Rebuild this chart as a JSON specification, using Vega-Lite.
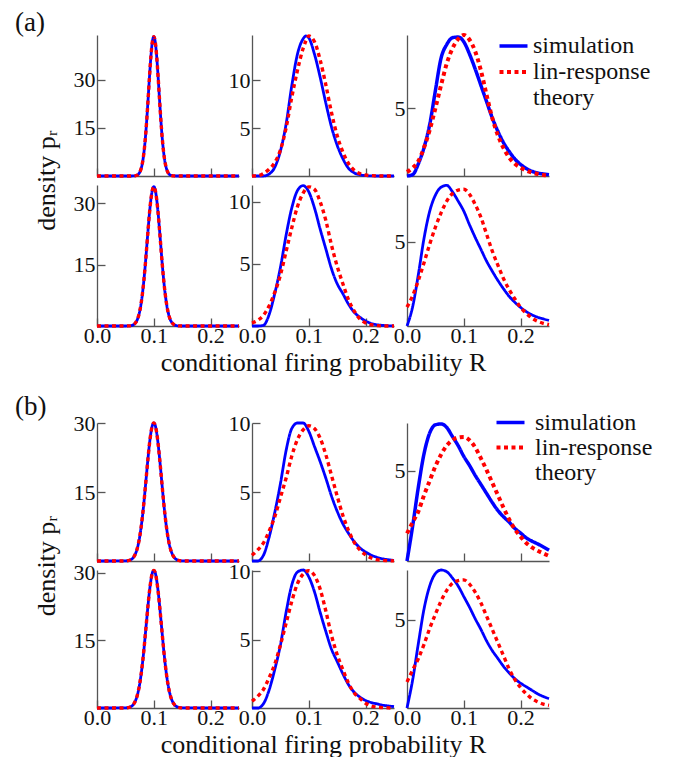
{
"$schema": "https://vega.github.io/schema/vega-lite/v6.json",
"padding": {"left": 15, "top": 8, "right": 5, "bottom": 0},
"background": "white",
"config": {
 "font": "Liberation Serif, DejaVu Serif, serif",
 "view": {"stroke": null},
 "axis": {"grid": false, "domainColor": "#555", "domainWidth": 1.3, "tickColor": "#555", "tickWidth": 1.3, "tickSize": -8, "labelFont": "Liberation Serif, DejaVu Serif, serif", "labelFontSize": 22, "labelColor": "#111", "titleFont": "Liberation Serif, DejaVu Serif, serif", "titleFontSize": 26, "titleFontWeight": "normal", "titleColor": "#111", "labelFlush": false, "labelOverlap": false},
 "axisX": {"format": ".1f", "titlePadding": 3, "labelPadding": 7},
 "axisY": {"format": "d", "labelPadding": 10},
 "title": {"font": "Liberation Serif, DejaVu Serif, serif", "fontSize": 27, "fontWeight": "normal", "color": "#111"},
 "legend": {"labelFont": "Liberation Serif, DejaVu Serif, serif"},
 "line": {"interpolate": "monotone", "clip": true}
},
"datasets": {
 "a11": [{"x":0,"sim":0,"th":0},{"x":0.05,"sim":0,"th":0},{"x":0.06,"sim":0,"th":0},{"x":0.0625,"sim":0.01,"th":0.01},{"x":0.065,"sim":0.03,"th":0.03},{"x":0.0675,"sim":0.08,"th":0.08},{"x":0.07,"sim":0.21,"th":0.21},{"x":0.0725,"sim":0.5,"th":0.5},{"x":0.075,"sim":1.08,"th":1.08},{"x":0.0775,"sim":2.19,"th":2.19},{"x":0.08,"sim":4.09,"th":4.09},{"x":0.0825,"sim":7.13,"th":7.13},{"x":0.085,"sim":11.5,"th":11.5},{"x":0.0875,"sim":17.3,"th":17.3},{"x":0.09,"sim":24.1,"th":24.1},{"x":0.0925,"sim":31.2,"th":31.2},{"x":0.095,"sim":37.5,"th":37.5},{"x":0.0975,"sim":41.9,"th":41.9},{"x":0.1,"sim":43.5,"th":43.5},{"x":0.1025,"sim":41.9,"th":41.9},{"x":0.105,"sim":37.5,"th":37.5},{"x":0.1075,"sim":31.2,"th":31.2},{"x":0.11,"sim":24.1,"th":24.1},{"x":0.1125,"sim":17.3,"th":17.3},{"x":0.115,"sim":11.5,"th":11.5},{"x":0.1175,"sim":7.13,"th":7.13},{"x":0.12,"sim":4.09,"th":4.09},{"x":0.1225,"sim":2.19,"th":2.19},{"x":0.125,"sim":1.08,"th":1.08},{"x":0.1275,"sim":0.5,"th":0.5},{"x":0.13,"sim":0.21,"th":0.21},{"x":0.1325,"sim":0.08,"th":0.08},{"x":0.135,"sim":0.03,"th":0.03},{"x":0.1375,"sim":0.01,"th":0.01},{"x":0.14,"sim":0,"th":0},{"x":0.15,"sim":0,"th":0},{"x":0.25,"sim":0,"th":0}],
 "a21": [{"x":0,"sim":0,"th":0},{"x":0.05,"sim":0,"th":0},{"x":0.055,"sim":0.02,"th":0.02},{"x":0.06,"sim":0.1,"th":0.1},{"x":0.0625,"sim":0.2,"th":0.2},{"x":0.065,"sim":0.39,"th":0.39},{"x":0.0675,"sim":0.72,"th":0.72},{"x":0.07,"sim":1.27,"th":1.27},{"x":0.0725,"sim":2.15,"th":2.15},{"x":0.075,"sim":3.47,"th":3.47},{"x":0.0775,"sim":5.35,"th":5.35},{"x":0.08,"sim":7.89,"th":7.89},{"x":0.0825,"sim":11.1,"th":11.1},{"x":0.085,"sim":14.9,"th":14.9},{"x":0.0875,"sim":19.2,"th":19.2},{"x":0.09,"sim":23.6,"th":23.6},{"x":0.0925,"sim":27.7,"th":27.7},{"x":0.095,"sim":31.0,"th":31.0},{"x":0.0975,"sim":33.2,"th":33.2},{"x":0.1,"sim":34.0,"th":34.0},{"x":0.1025,"sim":33.2,"th":33.2},{"x":0.105,"sim":31.0,"th":31.0},{"x":0.1075,"sim":27.7,"th":27.7},{"x":0.11,"sim":23.6,"th":23.6},{"x":0.1125,"sim":19.2,"th":19.2},{"x":0.115,"sim":14.9,"th":14.9},{"x":0.1175,"sim":11.1,"th":11.1},{"x":0.12,"sim":7.89,"th":7.89},{"x":0.1225,"sim":5.35,"th":5.35},{"x":0.125,"sim":3.47,"th":3.47},{"x":0.1275,"sim":2.15,"th":2.15},{"x":0.13,"sim":1.27,"th":1.27},{"x":0.1325,"sim":0.72,"th":0.72},{"x":0.135,"sim":0.39,"th":0.39},{"x":0.1375,"sim":0.2,"th":0.2},{"x":0.14,"sim":0.1,"th":0.1},{"x":0.145,"sim":0.02,"th":0.02},{"x":0.15,"sim":0,"th":0},{"x":0.25,"sim":0,"th":0}],
 "b11": [{"x":0,"sim":0,"th":0},{"x":0.045,"sim":0.01,"th":0.01},{"x":0.05,"sim":0.03,"th":0.03},{"x":0.055,"sim":0.1,"th":0.1},{"x":0.06,"sim":0.33,"th":0.33},{"x":0.0625,"sim":0.56,"th":0.56},{"x":0.065,"sim":0.94,"th":0.94},{"x":0.0675,"sim":1.52,"th":1.52},{"x":0.07,"sim":2.36,"th":2.36},{"x":0.0725,"sim":3.54,"th":3.54},{"x":0.075,"sim":5.13,"th":5.13},{"x":0.0775,"sim":7.17,"th":7.17},{"x":0.08,"sim":9.68,"th":9.68},{"x":0.0825,"sim":12.6,"th":12.6},{"x":0.085,"sim":15.9,"th":15.9},{"x":0.0875,"sim":19.3,"th":19.3},{"x":0.09,"sim":22.6,"th":22.6},{"x":0.0925,"sim":25.6,"th":25.6},{"x":0.095,"sim":27.95,"th":27.95},{"x":0.0975,"sim":29.5,"th":29.5},{"x":0.1,"sim":30.0,"th":30.0},{"x":0.1025,"sim":29.5,"th":29.5},{"x":0.105,"sim":27.95,"th":27.95},{"x":0.1075,"sim":25.6,"th":25.6},{"x":0.11,"sim":22.6,"th":22.6},{"x":0.1125,"sim":19.3,"th":19.3},{"x":0.115,"sim":15.9,"th":15.9},{"x":0.1175,"sim":12.6,"th":12.6},{"x":0.12,"sim":9.68,"th":9.68},{"x":0.1225,"sim":7.17,"th":7.17},{"x":0.125,"sim":5.13,"th":5.13},{"x":0.1275,"sim":3.54,"th":3.54},{"x":0.13,"sim":2.36,"th":2.36},{"x":0.1325,"sim":1.52,"th":1.52},{"x":0.135,"sim":0.94,"th":0.94},{"x":0.1375,"sim":0.56,"th":0.56},{"x":0.14,"sim":0.33,"th":0.33},{"x":0.145,"sim":0.1,"th":0.1},{"x":0.15,"sim":0.03,"th":0.03},{"x":0.155,"sim":0.01,"th":0.01},{"x":0.25,"sim":0,"th":0}],
 "b21": [{"x":0,"sim":0,"th":0},{"x":0.045,"sim":0.01,"th":0.01},{"x":0.05,"sim":0.03,"th":0.03},{"x":0.055,"sim":0.1,"th":0.1},{"x":0.06,"sim":0.34,"th":0.34},{"x":0.0625,"sim":0.57,"th":0.57},{"x":0.065,"sim":0.96,"th":0.96},{"x":0.0675,"sim":1.55,"th":1.55},{"x":0.07,"sim":2.4,"th":2.4},{"x":0.0725,"sim":3.6,"th":3.6},{"x":0.075,"sim":5.22,"th":5.22},{"x":0.0775,"sim":7.29,"th":7.29},{"x":0.08,"sim":9.84,"th":9.84},{"x":0.0825,"sim":12.8,"th":12.8},{"x":0.085,"sim":16.2,"th":16.2},{"x":0.0875,"sim":19.6,"th":19.6},{"x":0.09,"sim":23.0,"th":23.0},{"x":0.0925,"sim":26.0,"th":26.0},{"x":0.095,"sim":28.4,"th":28.4},{"x":0.0975,"sim":30.0,"th":30.0},{"x":0.1,"sim":30.5,"th":30.5},{"x":0.1025,"sim":30.0,"th":30.0},{"x":0.105,"sim":28.4,"th":28.4},{"x":0.1075,"sim":26.0,"th":26.0},{"x":0.11,"sim":23.0,"th":23.0},{"x":0.1125,"sim":19.6,"th":19.6},{"x":0.115,"sim":16.2,"th":16.2},{"x":0.1175,"sim":12.8,"th":12.8},{"x":0.12,"sim":9.84,"th":9.84},{"x":0.1225,"sim":7.29,"th":7.29},{"x":0.125,"sim":5.22,"th":5.22},{"x":0.1275,"sim":3.6,"th":3.6},{"x":0.13,"sim":2.4,"th":2.4},{"x":0.1325,"sim":1.55,"th":1.55},{"x":0.135,"sim":0.96,"th":0.96},{"x":0.1375,"sim":0.57,"th":0.57},{"x":0.14,"sim":0.34,"th":0.34},{"x":0.145,"sim":0.1,"th":0.1},{"x":0.15,"sim":0.03,"th":0.03},{"x":0.155,"sim":0.01,"th":0.01},{"x":0.25,"sim":0,"th":0}],
 "a12": [{"x":0,"sim":0,"th":0},{"x":0.01,"sim":0,"th":0.02},{"x":0.02,"sim":0,"th":0.25},{"x":0.03,"sim":0.2,"th":0.7},{"x":0.04,"sim":0.9,"th":1.4},{"x":0.05,"sim":2.6,"th":2.7},{"x":0.06,"sim":5.4,"th":5.0},{"x":0.07,"sim":9.4,"th":8.2},{"x":0.08,"sim":12.7,"th":11.0},{"x":0.09,"sim":14.3,"th":13.3},{"x":0.095,"sim":14.6,"th":14.1},{"x":0.1,"sim":14.4,"th":14.6},{"x":0.11,"sim":12.7,"th":14.0},{"x":0.12,"sim":10.3,"th":12.1},{"x":0.13,"sim":7.6,"th":9.5},{"x":0.14,"sim":5.1,"th":6.6},{"x":0.15,"sim":3.2,"th":4.2},{"x":0.16,"sim":1.8,"th":2.5},{"x":0.17,"sim":0.8,"th":1.3},{"x":0.18,"sim":0.33,"th":0.6},{"x":0.19,"sim":0.12,"th":0.25},{"x":0.2,"sim":0.04,"th":0.1},{"x":0.21,"sim":0.01,"th":0.04},{"x":0.22,"sim":0,"th":0.01},{"x":0.23,"sim":0,"th":0},{"x":0.24,"sim":0,"th":0},{"x":0.25,"sim":0,"th":0}],
 "a22": [{"x":0,"sim":0,"th":0.24},{"x":0.01,"sim":0,"th":0.45},{"x":0.02,"sim":0.05,"th":0.85},{"x":0.03,"sim":0.9,"th":1.6},{"x":0.04,"sim":2.6,"th":2.7},{"x":0.05,"sim":4.7,"th":4.1},{"x":0.06,"sim":7.3,"th":6.0},{"x":0.07,"sim":9.5,"th":7.9},{"x":0.08,"sim":10.9,"th":9.6},{"x":0.09,"sim":11.3,"th":10.7},{"x":0.1,"sim":10.8,"th":11.2},{"x":0.11,"sim":9.5,"th":11.0},{"x":0.12,"sim":7.8,"th":10.0},{"x":0.13,"sim":6.2,"th":8.5},{"x":0.14,"sim":4.6,"th":6.5},{"x":0.15,"sim":3.4,"th":4.8},{"x":0.16,"sim":2.6,"th":3.4},{"x":0.17,"sim":1.75,"th":2.1},{"x":0.18,"sim":1.1,"th":1.2},{"x":0.19,"sim":0.7,"th":0.55},{"x":0.2,"sim":0.4,"th":0.25},{"x":0.21,"sim":0.2,"th":0.1},{"x":0.22,"sim":0.1,"th":0.03},{"x":0.23,"sim":0.05,"th":0.01},{"x":0.24,"sim":0.02,"th":0},{"x":0.25,"sim":0,"th":0}],
 "b12": [{"x":0,"sim":0,"th":0.41},{"x":0.01,"sim":0,"th":0.8},{"x":0.02,"sim":0.4,"th":1.3},{"x":0.03,"sim":1.7,"th":2.15},{"x":0.04,"sim":3.5,"th":3.2},{"x":0.05,"sim":5.6,"th":4.6},{"x":0.06,"sim":8.0,"th":6.0},{"x":0.07,"sim":9.6,"th":7.6},{"x":0.08,"sim":10.0,"th":8.8},{"x":0.09,"sim":10.0,"th":9.5},{"x":0.1,"sim":9.4,"th":9.8},{"x":0.11,"sim":8.3,"th":9.6},{"x":0.12,"sim":7.2,"th":8.9},{"x":0.13,"sim":6.0,"th":7.7},{"x":0.14,"sim":4.7,"th":6.2},{"x":0.15,"sim":3.6,"th":4.7},{"x":0.16,"sim":2.7,"th":3.3},{"x":0.17,"sim":2.0,"th":2.2},{"x":0.18,"sim":1.4,"th":1.35},{"x":0.19,"sim":0.95,"th":0.8},{"x":0.2,"sim":0.65,"th":0.45},{"x":0.21,"sim":0.42,"th":0.22},{"x":0.22,"sim":0.27,"th":0.1},{"x":0.23,"sim":0.16,"th":0.05},{"x":0.24,"sim":0.09,"th":0.02},{"x":0.25,"sim":0.05,"th":0.01}],
 "b22": [{"x":0,"sim":0,"th":0.5},{"x":0.01,"sim":0,"th":0.85},{"x":0.02,"sim":0.3,"th":1.35},{"x":0.03,"sim":1.3,"th":2.2},{"x":0.04,"sim":2.8,"th":3.2},{"x":0.05,"sim":4.6,"th":4.6},{"x":0.06,"sim":7.0,"th":6.2},{"x":0.07,"sim":9.0,"th":7.8},{"x":0.08,"sim":9.95,"th":9.1},{"x":0.09,"sim":10.1,"th":9.8},{"x":0.1,"sim":9.6,"th":10.05},{"x":0.11,"sim":8.5,"th":9.7},{"x":0.12,"sim":7.0,"th":8.7},{"x":0.13,"sim":5.6,"th":7.1},{"x":0.14,"sim":4.3,"th":5.3},{"x":0.15,"sim":3.4,"th":3.9},{"x":0.16,"sim":2.5,"th":2.8},{"x":0.17,"sim":1.7,"th":1.8},{"x":0.18,"sim":1.15,"th":1.1},{"x":0.19,"sim":0.8,"th":0.7},{"x":0.2,"sim":0.55,"th":0.35},{"x":0.21,"sim":0.4,"th":0.15},{"x":0.22,"sim":0.3,"th":0.07},{"x":0.23,"sim":0.2,"th":0.03},{"x":0.24,"sim":0.15,"th":0.01},{"x":0.25,"sim":0.1,"th":0}],
 "a13": [{"x":0,"sim":0,"th":0.3},{"x":0.01,"sim":0.1,"th":0.6},{"x":0.02,"sim":0.9,"th":1.1},{"x":0.03,"sim":2.1,"th":2.1},{"x":0.04,"sim":3.8,"th":3.4},{"x":0.05,"sim":6.3,"th":5.0},{"x":0.06,"sim":8.7,"th":6.7},{"x":0.07,"sim":9.7,"th":8.3},{"x":0.08,"sim":10.2,"th":9.4},{"x":0.09,"sim":10.25,"th":10.1},{"x":0.1,"sim":9.9,"th":10.4},{"x":0.11,"sim":9.0,"th":10.05},{"x":0.12,"sim":7.9,"th":9.2},{"x":0.13,"sim":6.7,"th":7.8},{"x":0.14,"sim":5.5,"th":6.0},{"x":0.15,"sim":4.3,"th":4.3},{"x":0.16,"sim":3.3,"th":3.0},{"x":0.17,"sim":2.45,"th":2.05},{"x":0.18,"sim":1.8,"th":1.35},{"x":0.19,"sim":1.25,"th":0.9},{"x":0.2,"sim":0.85,"th":0.62},{"x":0.21,"sim":0.55,"th":0.4},{"x":0.22,"sim":0.35,"th":0.26},{"x":0.23,"sim":0.22,"th":0.15},{"x":0.24,"sim":0.15,"th":0.08},{"x":0.25,"sim":0.1,"th":0.04}],
 "a23": [{"x":0,"sim":0,"th":1.12},{"x":0.01,"sim":1.15,"th":1.8},{"x":0.02,"sim":3.05,"th":2.7},{"x":0.03,"sim":5.2,"th":3.75},{"x":0.04,"sim":6.8,"th":4.85},{"x":0.05,"sim":7.75,"th":5.85},{"x":0.06,"sim":8.22,"th":6.7},{"x":0.07,"sim":8.33,"th":7.4},{"x":0.08,"sim":7.95,"th":7.85},{"x":0.09,"sim":7.4,"th":8.05},{"x":0.1,"sim":6.8,"th":8.1},{"x":0.11,"sim":6.0,"th":7.8},{"x":0.12,"sim":5.25,"th":7.2},{"x":0.13,"sim":4.55,"th":6.45},{"x":0.14,"sim":3.85,"th":5.45},{"x":0.15,"sim":3.25,"th":4.45},{"x":0.16,"sim":2.7,"th":3.6},{"x":0.17,"sim":2.2,"th":2.8},{"x":0.18,"sim":1.75,"th":2.15},{"x":0.19,"sim":1.4,"th":1.6},{"x":0.2,"sim":1.1,"th":1.1},{"x":0.21,"sim":0.85,"th":0.75},{"x":0.22,"sim":0.66,"th":0.47},{"x":0.23,"sim":0.52,"th":0.28},{"x":0.24,"sim":0.42,"th":0.16},{"x":0.25,"sim":0.33,"th":0.08}],
 "b13": [{"x":0,"sim":0,"th":1.53},{"x":0.01,"sim":1.95,"th":2.15},{"x":0.02,"sim":4.1,"th":2.75},{"x":0.03,"sim":5.95,"th":3.65},{"x":0.04,"sim":7.1,"th":4.45},{"x":0.05,"sim":7.55,"th":5.25},{"x":0.06,"sim":7.6,"th":5.9},{"x":0.07,"sim":7.4,"th":6.4},{"x":0.08,"sim":6.9,"th":6.7},{"x":0.09,"sim":6.4,"th":6.85},{"x":0.1,"sim":5.8,"th":6.88},{"x":0.11,"sim":5.3,"th":6.7},{"x":0.12,"sim":4.75,"th":6.3},{"x":0.13,"sim":4.25,"th":5.7},{"x":0.14,"sim":3.75,"th":5.05},{"x":0.15,"sim":3.25,"th":4.35},{"x":0.16,"sim":2.8,"th":3.65},{"x":0.17,"sim":2.45,"th":2.95},{"x":0.18,"sim":2.15,"th":2.3},{"x":0.19,"sim":1.8,"th":1.75},{"x":0.2,"sim":1.55,"th":1.35},{"x":0.21,"sim":1.28,"th":1.0},{"x":0.22,"sim":1.1,"th":0.75},{"x":0.23,"sim":0.95,"th":0.57},{"x":0.24,"sim":0.78,"th":0.42},{"x":0.25,"sim":0.6,"th":0.28}],
 "b23": [{"x":0,"sim":0,"th":1.47},{"x":0.01,"sim":1.6,"th":2.15},{"x":0.02,"sim":3.65,"th":2.8},{"x":0.03,"sim":5.6,"th":3.6},{"x":0.04,"sim":6.9,"th":4.5},{"x":0.05,"sim":7.6,"th":5.3},{"x":0.06,"sim":7.8,"th":6.05},{"x":0.07,"sim":7.7,"th":6.65},{"x":0.08,"sim":7.35,"th":7.05},{"x":0.09,"sim":6.9,"th":7.2},{"x":0.1,"sim":6.3,"th":7.24},{"x":0.11,"sim":5.7,"th":7.0},{"x":0.12,"sim":5.05,"th":6.55},{"x":0.13,"sim":4.45,"th":5.95},{"x":0.14,"sim":3.8,"th":5.2},{"x":0.15,"sim":3.25,"th":4.45},{"x":0.16,"sim":2.8,"th":3.7},{"x":0.17,"sim":2.35,"th":2.95},{"x":0.18,"sim":1.98,"th":2.2},{"x":0.19,"sim":1.65,"th":1.6},{"x":0.2,"sim":1.4,"th":1.15},{"x":0.21,"sim":1.2,"th":0.8},{"x":0.22,"sim":1.0,"th":0.52},{"x":0.23,"sim":0.8,"th":0.35},{"x":0.24,"sim":0.65,"th":0.22},{"x":0.25,"sim":0.53,"th":0.15}]
},
"columns": 3,
"spacing": {"row": 9, "column": 13},
"bounds": "flush",
"resolve": {"scale": {"color": "independent", "strokeDash": "independent", "strokeWidth": "independent"}},
"concat": [
 {"width": 142, "height": 141, "data": {"name": "a11"}, "title": {"text": "(a)", "anchor": "start", "frame": "group", "dx": -82, "dy": 34, "baseline": "middle", "offset": 14},
  "transform": [{"fold": ["sim", "th"], "as": ["series", "y"]}], "mark": "line",
  "encoding": {"x": {"field": "x", "type": "quantitative", "scale": {"domain": [0, 0.25], "nice": false, "zero": false}, "axis": {"values": [0, 0.1, 0.2], "labels": false, "title": null}},
   "y": {"field": "y", "type": "quantitative", "scale": {"domain": [0, 44], "nice": false}, "axis": {"values": [15, 30], "title": "density pᵣ", "titleX": -51, "titleY": 145, "titleAngle": 270, "titleBaseline": "middle", "titleAlign": "center"}},
   "color": {"field": "series", "type": "nominal", "scale": {"domain": ["sim", "th", "zz"], "range": ["#0000ff", "#ff0000", "rgba(0,0,0,0)"]}, "legend": null},
   "strokeDash": {"field": "series", "type": "nominal", "scale": {"domain": ["sim", "th", "zz"], "range": [[1, 0], [4, 3.5], [1, 0]]}, "legend": null},
   "strokeWidth": {"field": "series", "type": "nominal", "scale": {"domain": ["sim", "th", "zz"], "range": [2.8, 4, 1]}, "legend": null}}},
 {"width": 142, "height": 141, "data": {"name": "a12"},
  "transform": [{"fold": ["sim", "th"], "as": ["series", "y"]}], "mark": "line",
  "encoding": {"x": {"field": "x", "type": "quantitative", "scale": {"domain": [0, 0.25], "nice": false, "zero": false}, "axis": {"values": [0, 0.1, 0.2], "labels": false, "title": null}},
   "y": {"field": "y", "type": "quantitative", "scale": {"domain": [0, 14.7], "nice": false}, "axis": {"values": [5, 10], "title": null}},
   "color": {"field": "series", "type": "nominal", "scale": {"domain": ["sim", "th", "zz"], "range": ["#0000ff", "#ff0000", "rgba(0,0,0,0)"]}, "legend": null},
   "strokeDash": {"field": "series", "type": "nominal", "scale": {"domain": ["sim", "th", "zz"], "range": [[1, 0], [4, 3.5], [1, 0]]}, "legend": null},
   "strokeWidth": {"field": "series", "type": "nominal", "scale": {"domain": ["sim", "th", "zz"], "range": [2.8, 4, 1]}, "legend": null}}},
 {"width": 142, "height": 141, "data": {"name": "a13"},
  "transform": [{"fold": ["sim", "th"], "as": ["series", "y"]}], "mark": "line",
  "encoding": {"x": {"field": "x", "type": "quantitative", "scale": {"domain": [0, 0.25], "nice": false, "zero": false}, "axis": {"values": [0, 0.1, 0.2], "labels": false, "title": null}},
   "y": {"field": "y", "type": "quantitative", "scale": {"domain": [0, 10.4], "nice": false}, "axis": {"values": [5], "title": null}},
   "color": {"field": "series", "type": "nominal", "scale": {"domain": ["sim", "th", "zz"], "range": ["#0000ff", "#ff0000", "rgba(0,0,0,0)"]}, "legend": {"orient": "none", "legendX": 90, "legendY": -2, "title": null, "labelExpr": "datum.value == 'sim' ? 'simulation' : datum.value == 'th' ? 'lin-response' : 'theory'", "symbolType": "stroke", "symbolSize": 784, "labelFontSize": 24, "labelColor": "#111", "clipHeight": 26, "rowPadding": 0, "labelOffset": 3, "padding": 0, "labelLimit": 300}},
   "strokeDash": {"field": "series", "type": "nominal", "scale": {"domain": ["sim", "th", "zz"], "range": [[1, 0], [4, 3.5], [1, 0]]}, "legend": {"orient": "none", "legendX": 90, "legendY": -2, "title": null, "labelExpr": "datum.value == 'sim' ? 'simulation' : datum.value == 'th' ? 'lin-response' : 'theory'", "symbolType": "stroke", "symbolSize": 784, "labelFontSize": 24, "labelColor": "#111", "clipHeight": 26, "rowPadding": 0, "labelOffset": 3, "padding": 0, "labelLimit": 300}},
   "strokeWidth": {"field": "series", "type": "nominal", "scale": {"domain": ["sim", "th", "zz"], "range": [3.5, 4.5, 1]}, "legend": {"orient": "none", "legendX": 90, "legendY": -2, "title": null, "labelExpr": "datum.value == 'sim' ? 'simulation' : datum.value == 'th' ? 'lin-response' : 'theory'", "symbolType": "stroke", "symbolSize": 784, "labelFontSize": 24, "labelColor": "#111", "clipHeight": 26, "rowPadding": 0, "labelOffset": 3, "padding": 0, "labelLimit": 300}}}},
 {"width": 142, "height": 141, "data": {"name": "a21"},
  "transform": [{"fold": ["sim", "th"], "as": ["series", "y"]}], "mark": "line",
  "encoding": {"x": {"field": "x", "type": "quantitative", "scale": {"domain": [0, 0.25], "nice": false, "zero": false}, "axis": {"values": [0, 0.1, 0.2], "title": null}},
   "y": {"field": "y", "type": "quantitative", "scale": {"domain": [0, 34.4], "nice": false}, "axis": {"values": [15, 30], "title": null}},
   "color": {"field": "series", "type": "nominal", "scale": {"domain": ["sim", "th", "zz"], "range": ["#0000ff", "#ff0000", "rgba(0,0,0,0)"]}, "legend": null},
   "strokeDash": {"field": "series", "type": "nominal", "scale": {"domain": ["sim", "th", "zz"], "range": [[1, 0], [4, 3.5], [1, 0]]}, "legend": null},
   "strokeWidth": {"field": "series", "type": "nominal", "scale": {"domain": ["sim", "th", "zz"], "range": [2.8, 4, 1]}, "legend": null}}},
 {"width": 142, "height": 141, "data": {"name": "a22"},
  "transform": [{"fold": ["sim", "th"], "as": ["series", "y"]}], "mark": "line",
  "encoding": {"x": {"field": "x", "type": "quantitative", "scale": {"domain": [0, 0.25], "nice": false, "zero": false}, "axis": {"values": [0, 0.1, 0.2], "title": "conditional firing probability R"}},
   "y": {"field": "y", "type": "quantitative", "scale": {"domain": [0, 11.35], "nice": false}, "axis": {"values": [5, 10], "title": null}},
   "color": {"field": "series", "type": "nominal", "scale": {"domain": ["sim", "th", "zz"], "range": ["#0000ff", "#ff0000", "rgba(0,0,0,0)"]}, "legend": null},
   "strokeDash": {"field": "series", "type": "nominal", "scale": {"domain": ["sim", "th", "zz"], "range": [[1, 0], [4, 3.5], [1, 0]]}, "legend": null},
   "strokeWidth": {"field": "series", "type": "nominal", "scale": {"domain": ["sim", "th", "zz"], "range": [2.8, 4, 1]}, "legend": null}}},
 {"width": 142, "height": 141, "data": {"name": "a23"},
  "transform": [{"fold": ["sim", "th"], "as": ["series", "y"]}], "mark": "line",
  "encoding": {"x": {"field": "x", "type": "quantitative", "scale": {"domain": [0, 0.25], "nice": false, "zero": false}, "axis": {"values": [0, 0.1, 0.2], "title": null}},
   "y": {"field": "y", "type": "quantitative", "scale": {"domain": [0, 8.35], "nice": false}, "axis": {"values": [5], "title": null}},
   "color": {"field": "series", "type": "nominal", "scale": {"domain": ["sim", "th", "zz"], "range": ["#0000ff", "#ff0000", "rgba(0,0,0,0)"]}, "legend": null},
   "strokeDash": {"field": "series", "type": "nominal", "scale": {"domain": ["sim", "th", "zz"], "range": [[1, 0], [4, 3.5], [1, 0]]}, "legend": null},
   "strokeWidth": {"field": "series", "type": "nominal", "scale": {"domain": ["sim", "th", "zz"], "range": [2.8, 4, 1]}, "legend": null}}},
 {"width": 142, "height": 79, "data": {"values": []}, "mark": "point", "encoding": {}},
 {"width": 142, "height": 79, "data": {"values": []}, "mark": "point", "encoding": {}},
 {"width": 142, "height": 79, "data": {"values": []}, "mark": "point", "encoding": {}},
 {"width": 142, "height": 138, "data": {"name": "b11"}, "title": {"text": "(b)", "anchor": "start", "frame": "group", "dx": -82, "dy": 37, "baseline": "middle", "offset": 15},
  "transform": [{"fold": ["sim", "th"], "as": ["series", "y"]}], "mark": "line",
  "encoding": {"x": {"field": "x", "type": "quantitative", "scale": {"domain": [0, 0.25], "nice": false, "zero": false}, "axis": {"values": [0, 0.1, 0.2], "labels": false, "title": null}},
   "y": {"field": "y", "type": "quantitative", "scale": {"domain": [0, 30], "nice": false}, "axis": {"values": [15, 30], "title": "density pᵣ", "titleX": -51, "titleY": 142.5, "titleAngle": 270, "titleBaseline": "middle", "titleAlign": "center"}},
   "color": {"field": "series", "type": "nominal", "scale": {"domain": ["sim", "th", "zz"], "range": ["#0000ff", "#ff0000", "rgba(0,0,0,0)"]}, "legend": null},
   "strokeDash": {"field": "series", "type": "nominal", "scale": {"domain": ["sim", "th", "zz"], "range": [[1, 0], [4, 3.5], [1, 0]]}, "legend": null},
   "strokeWidth": {"field": "series", "type": "nominal", "scale": {"domain": ["sim", "th", "zz"], "range": [2.8, 4, 1]}, "legend": null}}},
 {"width": 142, "height": 138, "data": {"name": "b12"},
  "transform": [{"fold": ["sim", "th"], "as": ["series", "y"]}], "mark": "line",
  "encoding": {"x": {"field": "x", "type": "quantitative", "scale": {"domain": [0, 0.25], "nice": false, "zero": false}, "axis": {"values": [0, 0.1, 0.2], "labels": false, "title": null}},
   "y": {"field": "y", "type": "quantitative", "scale": {"domain": [0, 10], "nice": false}, "axis": {"values": [5, 10], "title": null}},
   "color": {"field": "series", "type": "nominal", "scale": {"domain": ["sim", "th", "zz"], "range": ["#0000ff", "#ff0000", "rgba(0,0,0,0)"]}, "legend": null},
   "strokeDash": {"field": "series", "type": "nominal", "scale": {"domain": ["sim", "th", "zz"], "range": [[1, 0], [4, 3.5], [1, 0]]}, "legend": null},
   "strokeWidth": {"field": "series", "type": "nominal", "scale": {"domain": ["sim", "th", "zz"], "range": [2.8, 4, 1]}, "legend": null}}},
 {"width": 142, "height": 138, "data": {"name": "b13"},
  "transform": [{"fold": ["sim", "th"], "as": ["series", "y"]}], "mark": "line",
  "encoding": {"x": {"field": "x", "type": "quantitative", "scale": {"domain": [0, 0.25], "nice": false, "zero": false}, "axis": {"values": [0, 0.1, 0.2], "labels": false, "title": null}},
   "y": {"field": "y", "type": "quantitative", "scale": {"domain": [0, 7.65], "nice": false}, "axis": {"values": [5], "title": null}},
   "color": {"field": "series", "type": "nominal", "scale": {"domain": ["sim", "th", "zz"], "range": ["#0000ff", "#ff0000", "rgba(0,0,0,0)"]}, "legend": {"orient": "none", "legendX": 87, "legendY": -13, "title": null, "labelExpr": "datum.value == 'sim' ? 'simulation' : datum.value == 'th' ? 'lin-response' : 'theory'", "symbolType": "stroke", "symbolSize": 784, "labelFontSize": 24, "labelColor": "#111", "clipHeight": 25, "rowPadding": 0, "labelOffset": 8, "padding": 0, "labelLimit": 300}},
   "strokeDash": {"field": "series", "type": "nominal", "scale": {"domain": ["sim", "th", "zz"], "range": [[1, 0], [4, 3.5], [1, 0]]}, "legend": {"orient": "none", "legendX": 87, "legendY": -13, "title": null, "labelExpr": "datum.value == 'sim' ? 'simulation' : datum.value == 'th' ? 'lin-response' : 'theory'", "symbolType": "stroke", "symbolSize": 784, "labelFontSize": 24, "labelColor": "#111", "clipHeight": 25, "rowPadding": 0, "labelOffset": 8, "padding": 0, "labelLimit": 300}},
   "strokeWidth": {"field": "series", "type": "nominal", "scale": {"domain": ["sim", "th", "zz"], "range": [3.5, 4.5, 1]}, "legend": {"orient": "none", "legendX": 87, "legendY": -13, "title": null, "labelExpr": "datum.value == 'sim' ? 'simulation' : datum.value == 'th' ? 'lin-response' : 'theory'", "symbolType": "stroke", "symbolSize": 784, "labelFontSize": 24, "labelColor": "#111", "clipHeight": 25, "rowPadding": 0, "labelOffset": 8, "padding": 0, "labelLimit": 300}}}},
 {"width": 142, "height": 138, "data": {"name": "b21"},
  "transform": [{"fold": ["sim", "th"], "as": ["series", "y"]}], "mark": "line",
  "encoding": {"x": {"field": "x", "type": "quantitative", "scale": {"domain": [0, 0.25], "nice": false, "zero": false}, "axis": {"values": [0, 0.1, 0.2], "title": null}},
   "y": {"field": "y", "type": "quantitative", "scale": {"domain": [0, 30.6], "nice": false}, "axis": {"values": [15, 30], "title": null}},
   "color": {"field": "series", "type": "nominal", "scale": {"domain": ["sim", "th", "zz"], "range": ["#0000ff", "#ff0000", "rgba(0,0,0,0)"]}, "legend": null},
   "strokeDash": {"field": "series", "type": "nominal", "scale": {"domain": ["sim", "th", "zz"], "range": [[1, 0], [4, 3.5], [1, 0]]}, "legend": null},
   "strokeWidth": {"field": "series", "type": "nominal", "scale": {"domain": ["sim", "th", "zz"], "range": [2.8, 4, 1]}, "legend": null}}},
 {"width": 142, "height": 138, "data": {"name": "b22"},
  "transform": [{"fold": ["sim", "th"], "as": ["series", "y"]}], "mark": "line",
  "encoding": {"x": {"field": "x", "type": "quantitative", "scale": {"domain": [0, 0.25], "nice": false, "zero": false}, "axis": {"values": [0, 0.1, 0.2], "title": "conditional firing probability R"}},
   "y": {"field": "y", "type": "quantitative", "scale": {"domain": [0, 10.1], "nice": false}, "axis": {"values": [5, 10], "title": null}},
   "color": {"field": "series", "type": "nominal", "scale": {"domain": ["sim", "th", "zz"], "range": ["#0000ff", "#ff0000", "rgba(0,0,0,0)"]}, "legend": null},
   "strokeDash": {"field": "series", "type": "nominal", "scale": {"domain": ["sim", "th", "zz"], "range": [[1, 0], [4, 3.5], [1, 0]]}, "legend": null},
   "strokeWidth": {"field": "series", "type": "nominal", "scale": {"domain": ["sim", "th", "zz"], "range": [2.8, 4, 1]}, "legend": null}}},
 {"width": 142, "height": 138, "data": {"name": "b23"},
  "transform": [{"fold": ["sim", "th"], "as": ["series", "y"]}], "mark": "line",
  "encoding": {"x": {"field": "x", "type": "quantitative", "scale": {"domain": [0, 0.25], "nice": false, "zero": false}, "axis": {"values": [0, 0.1, 0.2], "title": null}},
   "y": {"field": "y", "type": "quantitative", "scale": {"domain": [0, 7.8], "nice": false}, "axis": {"values": [5], "title": null}},
   "color": {"field": "series", "type": "nominal", "scale": {"domain": ["sim", "th", "zz"], "range": ["#0000ff", "#ff0000", "rgba(0,0,0,0)"]}, "legend": null},
   "strokeDash": {"field": "series", "type": "nominal", "scale": {"domain": ["sim", "th", "zz"], "range": [[1, 0], [4, 3.5], [1, 0]]}, "legend": null},
   "strokeWidth": {"field": "series", "type": "nominal", "scale": {"domain": ["sim", "th", "zz"], "range": [2.8, 4, 1]}, "legend": null}}}
]
}
